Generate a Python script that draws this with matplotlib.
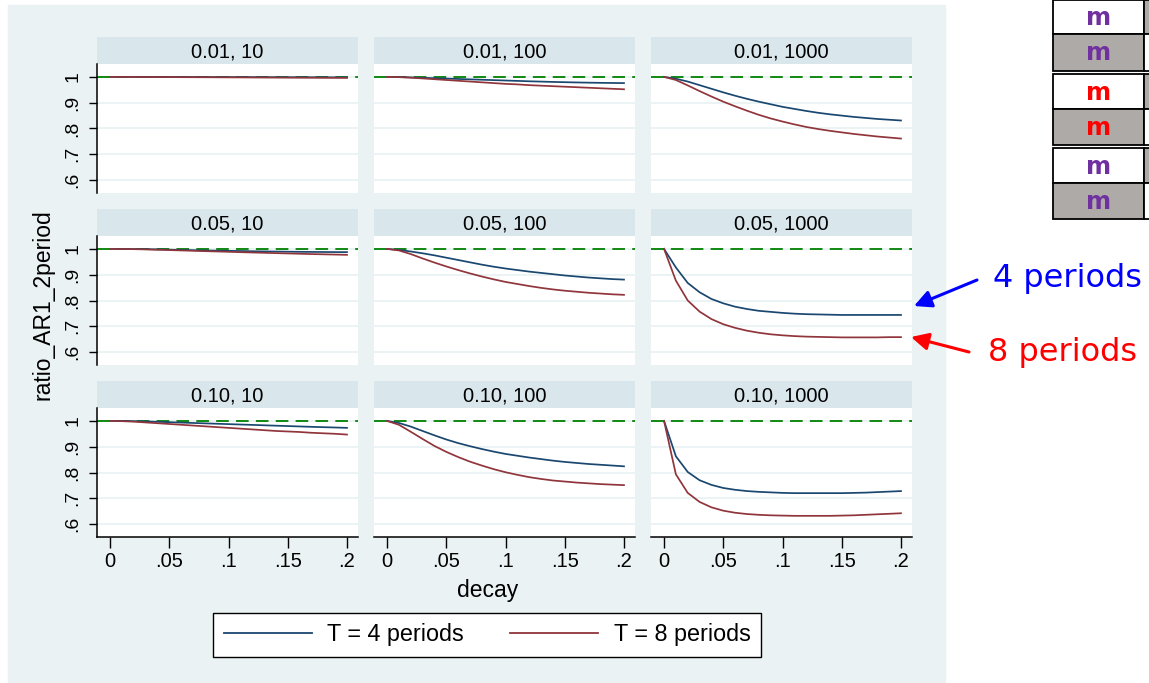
import matplotlib.pyplot as plt
from matplotlib.patches import Rectangle
from matplotlib.lines import Line2D

plt.rcParams['font.family'] = ['Liberation Sans', 'DejaVu Sans']

# decay grid used for every panel
decay = [0.00, 0.01, 0.02, 0.03, 0.04, 0.05, 0.06, 0.07, 0.08, 0.09, 0.10,
         0.11, 0.12, 0.13, 0.14, 0.15, 0.16, 0.17, 0.18, 0.19, 0.20]

panel_titles = ['0.01, 10', '0.01, 100', '0.01, 1000',
                '0.05, 10', '0.05, 100', '0.05, 1000',
                '0.10, 10', '0.10, 100', '0.10, 1000']

# T = 4 periods
t4_001_10 = [1.000, 1.000, 1.000, 1.000, 0.9998, 0.9997, 0.9996, 0.9995, 0.9994, 0.9993, 0.9992,
             0.9991, 0.9990, 0.9989, 0.9988, 0.9987, 0.9986, 0.9985, 0.9984, 0.9983, 0.9982]
t4_001_100 = [1.000, 0.9995, 0.998, 0.9965, 0.995, 0.9935, 0.992, 0.9905, 0.989, 0.9875, 0.986,
              0.9845, 0.983, 0.9818, 0.9805, 0.9795, 0.9785, 0.9777, 0.977, 0.9765, 0.976]
t4_001_1000 = [1.000, 0.993, 0.982, 0.968, 0.954, 0.940, 0.927, 0.915, 0.904, 0.894, 0.884,
               0.876, 0.868, 0.861, 0.855, 0.850, 0.845, 0.841, 0.837, 0.834, 0.831]
t4_005_10 = [1.000, 1.000, 0.9995, 0.999, 0.998, 0.997, 0.996, 0.995, 0.994, 0.9932, 0.9925,
             0.9918, 0.991, 0.9903, 0.9897, 0.9892, 0.9887, 0.9883, 0.988, 0.9877, 0.9875]
t4_005_100 = [1.000, 0.996, 0.990, 0.983, 0.975, 0.966, 0.957, 0.948, 0.939, 0.931, 0.924,
              0.918, 0.912, 0.907, 0.902, 0.897, 0.893, 0.889, 0.886, 0.883, 0.881]
t4_005_1000 = [1.000, 0.928, 0.868, 0.832, 0.806, 0.789, 0.776, 0.767, 0.760, 0.756, 0.752,
               0.749, 0.747, 0.746, 0.745, 0.744, 0.744, 0.744, 0.744, 0.744, 0.744]
t4_010_10 = [1.000, 1.000, 0.999, 0.998, 0.9965, 0.995, 0.9935, 0.992, 0.9905, 0.989, 0.9875,
             0.986, 0.9845, 0.983, 0.9815, 0.980, 0.9785, 0.977, 0.9757, 0.9744, 0.973]
t4_010_100 = [1.000, 0.992, 0.978, 0.961, 0.944, 0.928, 0.914, 0.902, 0.891, 0.881, 0.872,
              0.865, 0.858, 0.852, 0.846, 0.841, 0.837, 0.833, 0.830, 0.827, 0.824]
t4_010_1000 = [1.000, 0.863, 0.802, 0.770, 0.752, 0.740, 0.733, 0.728, 0.725, 0.723, 0.721,
               0.720, 0.720, 0.720, 0.720, 0.720, 0.721, 0.722, 0.724, 0.726, 0.728]

# T = 8 periods
t8_001_10 = [1.000, 1.000, 0.9998, 0.9996, 0.9994, 0.9992, 0.9990, 0.9988, 0.9986, 0.9984, 0.9982,
             0.9980, 0.9978, 0.9976, 0.9974, 0.9972, 0.9970, 0.9968, 0.9966, 0.9964, 0.9962]
t8_001_100 = [1.000, 0.999, 0.997, 0.994, 0.991, 0.988, 0.985, 0.982, 0.979, 0.976, 0.973,
              0.971, 0.968, 0.966, 0.964, 0.962, 0.960, 0.958, 0.956, 0.954, 0.952]
t8_001_1000 = [1.000, 0.988, 0.967, 0.945, 0.924, 0.904, 0.886, 0.869, 0.853, 0.839, 0.827,
               0.816, 0.806, 0.798, 0.791, 0.785, 0.779, 0.774, 0.769, 0.765, 0.761]
t8_005_10 = [1.000, 0.9995, 0.999, 0.998, 0.9968, 0.9955, 0.994, 0.9927, 0.9913, 0.990, 0.9887,
             0.9873, 0.986, 0.9848, 0.9836, 0.9824, 0.9812, 0.980, 0.979, 0.978, 0.977]
t8_005_100 = [1.000, 0.994, 0.980, 0.963, 0.947, 0.932, 0.918, 0.905, 0.893, 0.882, 0.872,
              0.864, 0.856, 0.849, 0.843, 0.838, 0.834, 0.830, 0.827, 0.824, 0.822]
t8_005_1000 = [1.000, 0.877, 0.800, 0.757, 0.728, 0.708, 0.694, 0.683, 0.675, 0.669, 0.665,
               0.662, 0.660, 0.659, 0.658, 0.657, 0.657, 0.657, 0.657, 0.658, 0.658]
t8_010_10 = [1.000, 0.999, 0.997, 0.994, 0.991, 0.988, 0.985, 0.982, 0.979, 0.976, 0.973,
             0.970, 0.967, 0.964, 0.961, 0.959, 0.957, 0.954, 0.952, 0.950, 0.947]
t8_010_100 = [1.000, 0.985, 0.958, 0.930, 0.903, 0.880, 0.860, 0.842, 0.827, 0.813, 0.801,
              0.791, 0.782, 0.775, 0.769, 0.765, 0.761, 0.758, 0.755, 0.753, 0.751]
t8_010_1000 = [1.000, 0.793, 0.721, 0.686, 0.665, 0.652, 0.644, 0.639, 0.636, 0.634, 0.633,
               0.632, 0.632, 0.632, 0.632, 0.633, 0.634, 0.636, 0.638, 0.640, 0.642]

series_t4 = [t4_001_10, t4_001_100, t4_001_1000, t4_005_10, t4_005_100, t4_005_1000,
             t4_010_10, t4_010_100, t4_010_1000]
series_t8 = [t8_001_10, t8_001_100, t8_001_1000, t8_005_10, t8_005_100, t8_005_1000,
             t8_010_10, t8_010_100, t8_010_1000]

yticks = [0.6, 0.7, 0.8, 0.9, 1.0]
ytick_labels = ['.6', '.7', '.8', '.9', '1']
xticks = [0, 0.05, 0.1, 0.15, 0.2]
xtick_labels = ['0', '.05', '.1', '.15', '.2']

NAVY = '#1a476f'
MAROON = '#90353b'
GREEN = '#008000'
BG = '#eaf2f3'
STRIP = '#d9e6eb'

W, H = 1149, 683


def px(x0, y0, x1, y1):
    # pixel box (top-left origin) -> figure fraction rect
    return [x0 / W, 1 - y1 / H, (x1 - x0) / W, (y1 - y0) / H]


fig = plt.figure(figsize=(W / 100, H / 100), dpi=100)
fig.patches.append(Rectangle((8 / W, 0), (945 - 8) / W, (H - 5) / H,
                             transform=fig.transFigure, color=BG, zorder=-10))

cols = [(97, 358), (374, 635), (651, 912)]
rows = [64, 236, 408]
ph, sh = 129, 27

for i in range(9):
    r, c = divmod(i, 3)
    x0, x1 = cols[c]
    y0 = rows[r]

    strip = fig.add_axes(px(x0, y0 - sh, x1, y0))
    strip.set_facecolor(STRIP)
    strip.set_xticks([])
    strip.set_yticks([])
    for s in strip.spines.values():
        s.set_visible(False)
    strip.text(0.5, 0.45, panel_titles[i], ha='center', va='center', fontsize=14.5,
               transform=strip.transAxes)

    ax = fig.add_axes(px(x0, y0, x1, y0 + ph))
    ax.set_facecolor('white')
    ax.set_xlim(-0.011, 0.2093)
    ax.set_ylim(0.55, 1.05)
    ax.set_yticks(yticks)
    ax.set_xticks(xticks)
    ax.grid(axis='y', color=BG, lw=1.3)
    ax.set_axisbelow(True)
    for s in ['top', 'right']:
        ax.spines[s].set_visible(False)

    ax.axhline(1.0, color=GREEN, lw=1.3, dashes=(7, 4), zorder=2)
    ax.plot(decay, series_t4[i], color=NAVY, lw=1.25, zorder=3)
    ax.plot(decay, series_t8[i], color=MAROON, lw=1.25, zorder=3)

    if c == 0:
        ax.set_yticklabels(ytick_labels, rotation=90, va='center', fontsize=14)
        ax.tick_params(axis='y', length=6, width=1, pad=5)
        ax.spines['left'].set_linewidth(1.1)
    else:
        ax.spines['left'].set_visible(False)
        ax.tick_params(axis='y', length=0, labelleft=False)

    if r == 2:
        ax.set_xticklabels(xtick_labels, fontsize=14.5)
        ax.tick_params(axis='x', length=8, width=1, pad=3)
        ax.spines['bottom'].set_linewidth(1.1)
    else:
        ax.spines['bottom'].set_visible(False)
        ax.tick_params(axis='x', length=0, labelbottom=False)

fig.text(43 / W, 1 - 305 / H, 'ratio_AR1_2period', rotation=90, ha='center',
         va='center', fontsize=16.5)
fig.text(488 / W, 1 - 590 / H, 'decay', ha='center', va='center', fontsize=16.5)

handles = [Line2D([], [], color=NAVY, lw=1.3), Line2D([], [], color=MAROON, lw=1.3)]
leg = fig.legend(handles, ['T = 4 periods', 'T = 8 periods'], loc='center',
                 bbox_to_anchor=(487 / W, 1 - 635 / H), ncol=2, fontsize=16.8,
                 frameon=True, fancybox=False, edgecolor='black', framealpha=1,
                 handlelength=3.8, handletextpad=0.65, columnspacing=1.95,
                 borderpad=0.45, borderaxespad=0)
leg.get_frame().set_linewidth(1.0)

# overlay for the slide annotations (pixel coordinates)
ov = fig.add_axes([0, 0, 1, 1], zorder=10)
ov.set_xlim(0, W)
ov.set_ylim(H, 0)
ov.axis('off')
ov.patch.set_alpha(0)

table_rows = [(0, 34), (34, 71), (74, 109), (109, 145), (148, 183), (183, 219)]
table_colors = ['#7030a0', '#7030a0', '#ff0000', '#ff0000', '#7030a0', '#7030a0']
GRAY = '#aeaaa8'
for k, (ya, yb) in enumerate(table_rows):
    left_fill = 'white' if k % 2 == 0 else GRAY
    right_fill = GRAY if k % 2 == 0 else 'white'
    ov.add_patch(Rectangle((1053, ya), 91, yb - ya, facecolor=left_fill,
                           edgecolor='black', lw=1.3))
    ov.add_patch(Rectangle((1144, ya), 20, yb - ya, facecolor=right_fill,
                           edgecolor='black', lw=1.3))
    ov.text(1099, (ya + yb) / 2 + 1, 'm', color=table_colors[k], fontsize=17.5,
            fontweight='bold', ha='center', va='center', family='DejaVu Sans')

ov.annotate('', xy=(914, 306), xytext=(977, 280),
            arrowprops=dict(arrowstyle='-|>', color='#0000ff', lw=2.2,
                            mutation_scale=26, shrinkA=0, shrinkB=0))
ov.annotate('', xy=(911, 337), xytext=(969, 352),
            arrowprops=dict(arrowstyle='-|>', color='#ff0000', lw=2.2,
                            mutation_scale=26, shrinkA=0, shrinkB=0))
ov.text(993, 279, '4 periods', color='#0000ff', fontsize=23, ha='left',
        va='center', family='DejaVu Sans')
ov.text(988, 353, '8 periods', color='#ff0000', fontsize=23, ha='left',
        va='center', family='DejaVu Sans')

fig.savefig('out.png', dpi=100)
